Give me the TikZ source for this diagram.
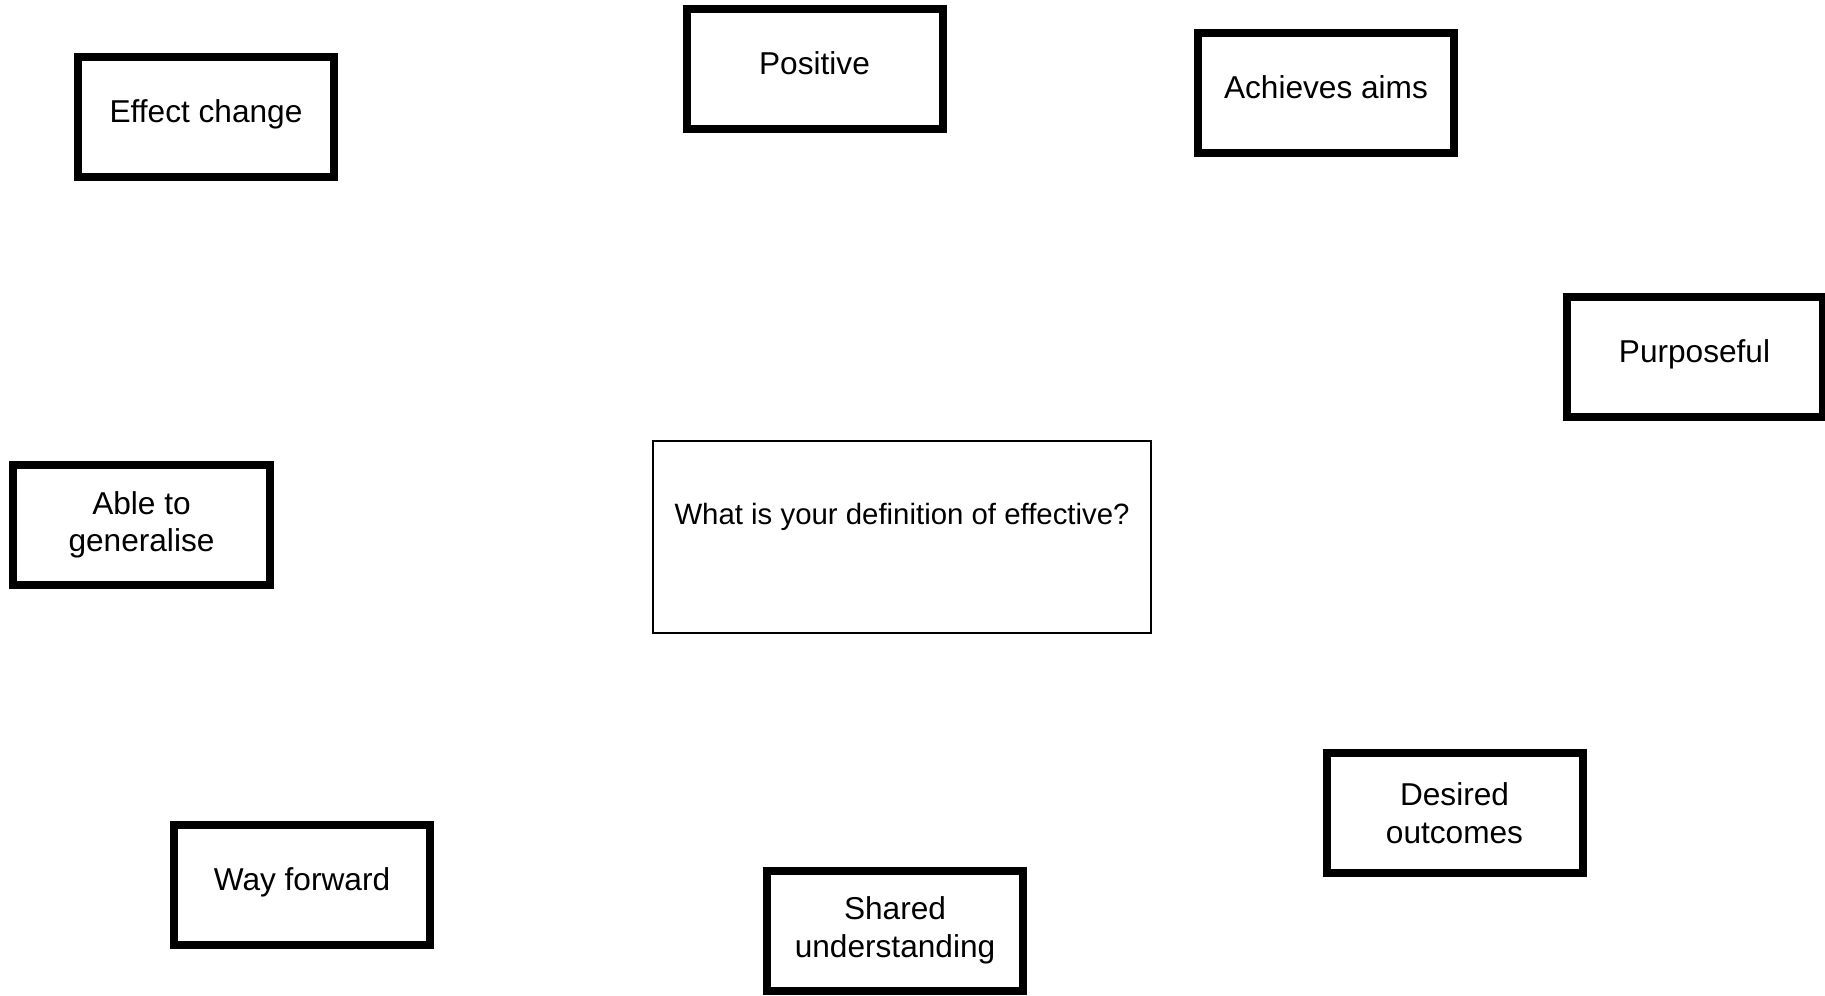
\documentclass[tikz,border=0pt]{standalone}
\usepackage{fontspec}
\setmainfont{Liberation Sans}
\begin{document}
\begin{tikzpicture}[x=0.4pt, y={(0pt,-0.4pt)},
  idea/.style={draw=black, line width=3.2pt, fill=white, inner sep=0pt,
    minimum width=102.4pt, minimum height=48pt, align=center,
    font=\fontsize{12.65pt}{15pt}\selectfont},
  oneline/.style={text height=0.7em, text depth=0.244em},
  question/.style={draw=black, line width=0.6pt, fill=white, inner sep=0pt,
    minimum width=199.2pt, minimum height=76.8pt,
    text height=0.7em, text depth=1.68em,
    font=\fontsize{11.75pt}{14pt}\selectfont}]
  % page area
  \useasboundingbox (0,0) rectangle (1825,995);
  \fill[white] (0,0) rectangle (1825,995);

  % central question
  \node[question] (q) at (902,537) {What is your definition of effective?};

  % surrounding answers
  \node[idea, oneline] (effect)     at (206,116.5)  {Effect change};
  \node[idea, oneline] (positive)   at (814.5,69)   {Positive};
  \node[idea, oneline] (achieves)   at (1326,93)    {Achieves aims};
  \node[idea, oneline] (purposeful) at (1694.5,356.5) {Purposeful};
  \node[idea]          (able)       at (141.5,525)  {Able to\\generalise};
  \node[idea, oneline] (way)        at (302,885)    {Way forward};
  \node[idea]          (shared)     at (895,930.5)  {Shared\\understanding};
  \node[idea]          (desired)    at (1454.5,813) {Desired\\outcomes};
\end{tikzpicture}
\end{document}
